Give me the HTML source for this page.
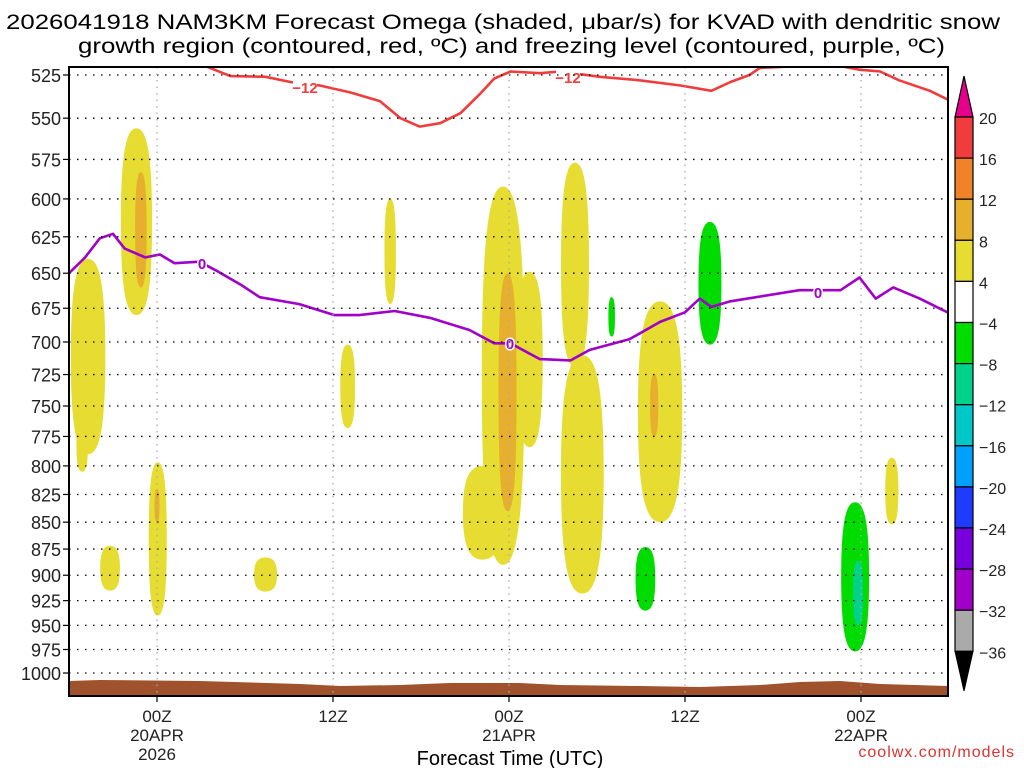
<!DOCTYPE html>
<html><head><meta charset="utf-8"><style>
html,body{margin:0;padding:0;background:#fff;width:1024px;height:768px;overflow:hidden}
svg{font-family:"Liberation Sans",sans-serif}
</style></head><body>
<svg id="chart" width="1024" height="768" viewBox="0 0 1024 768" xmlns="http://www.w3.org/2000/svg">
<text x="6" y="29" font-size="21" textLength="994" lengthAdjust="spacingAndGlyphs" fill="#000">2026041918 NAM3KM Forecast Omega (shaded, μbar/s) for KVAD with dendritic snow</text>
<text x="78" y="53" font-size="21" textLength="867" lengthAdjust="spacingAndGlyphs" fill="#000">growth region (contoured, red, ºC) and freezing level (contoured, purple, ºC)</text>
<g id="plot"></g>
<text x="510" y="765" font-size="20" text-anchor="middle">Forecast Time (UTC)</text>
<text x="1015" y="757" font-size="16" text-anchor="end" fill="#e03030" letter-spacing="1">coolwx.com/models</text>
</svg>
<script>
const pressureTicks=[525,550,575,600,625,650,675,700,725,750,775,800,825,850,875,900,925,950,975,1000];
const timeTicks=[0,12,24,36,48];
const timeLabels=[["00Z","20APR","2026"],["12Z"],["00Z","21APR"],["12Z"],["00Z","22APR"]];
const freezeHours=[-6,-4.9,-3.9,-3.0,-2.2,-0.8,0.2,1.2,2.9,4.0,5.7,7.0,9.7,12.1,13.8,16.2,18.6,21.3,23.0,24.1,26.1,28.2,29.5,32.2,34.3,36.0,37.0,37.8,39.1,43.8,46.6,47.9,49.0,50.2,52.0,53.9];
const freezeP=[650,639,626,623,633,639,637,643,642,648,658,667,672,680,680,677,682,691,701,701,713,714,706,698,685,678,668,674,670,662,662,653,668,660,668,678];
const dgzHours=[3.3,5.0,7.4,9.1,11.1,13.2,15.2,16.6,17.9,19.3,20.7,22.0,23.0,24.1,26.1,27.5,30.2,32.9,35.7,37.8,39.1,40.4,41.1,43.8,46.6,47.9,49.3,50.6,52.7,53.9];
const dgzP=[520,525.6,526,529,531,535,540,550,555,553,547,536,527,523,524,523,526,528,531,534,529,525,521,520,520,522,523,528,534,539];
// blobs: [centerHour, topP, bottomP, halfWidthHours, level]
const blobHour=[-1.4,-4.7,-5.1,0.05,-3.2,7.4,13.0,15.9,23.6,22.2,25.4,28.5,29.0,34.3,50.1,-1.1,23.9,33.9,0.0,37.7,31.0,33.3,47.6,47.8];
const blobTop=[556,640,760,797,872,883,702,600,592,800,649,577,710,670,793,583,650,725,820,615,667,873,832,886];
const blobBot=[680,790,805,940,915,916,768,672,890,885,784,719,918,850,852,660,840,775,850,702,696,935,977,950];
const blobHalf=[0.95,1.05,0.35,0.55,0.6,0.7,0.45,0.35,1.3,1.2,0.8,0.85,1.3,1.35,0.4,0.35,0.55,0.25,0.15,0.7,0.2,0.6,0.85,0.3];
const blobLevel=[4,4,4,4,4,4,4,4,4,4,4,4,4,4,4,8,8,8,8,-4,-4,-4,-4,-8];
const cbLabels=["20","16","12","8","4","\u22124","\u22128","\u221212","\u221216","\u221220","\u221224","\u221228","\u221232","\u221236"];
const cbColors=["#f03c3c","#f08228","#e6af2d","#e6dc32","#ffffff","#00dc00","#00d28c","#00c8c8","#00a0ff","#1e3cff","#7800dc","#a000c8","#aaaaaa"];

const X0=69,X1=948,Y0=67,Y1=696;
const xs=h=>157+(h)*(176/12);
const ys=p=>75+(Math.log(p)-Math.log(525))/(Math.log(1000)-Math.log(525))*598;
const NS="http://www.w3.org/2000/svg";
const plot=document.getElementById('plot');
function mk(tag,attrs,parent){const e=document.createElementNS(NS,tag);for(const k in attrs)e.setAttribute(k,attrs[k]);(parent||plot).appendChild(e);return e;}
const levelColor={4:"#e6dc32",8:"#e6af2d",'-4':"#00dc00",'-8':"#00d28c"};
const defs=mk('defs',{});const cp=mk('clipPath',{id:'clip'},defs);mk('rect',{x:X0,y:Y0,width:X1-X0,height:Y1-Y0},cp);
const g=mk('g',{'clip-path':'url(#clip)'});
for(let i=0;i<blobHour.length;i++){
 const cx=xs(blobHour[i]),yt=ys(blobTop[i]),yb=ys(blobBot[i]),w=blobHalf[i]*176/12*1.12,h=yb-yt;
 const d=`M${cx},${yt} C${cx+w*0.7},${yt} ${cx+w},${yt+h*0.15} ${cx+w},${yt+h*0.5} C${cx+w},${yt+h*0.85} ${cx+w*0.7},${yb} ${cx},${yb} C${cx-w*0.7},${yb} ${cx-w},${yt+h*0.85} ${cx-w},${yt+h*0.5} C${cx-w},${yt+h*0.15} ${cx-w*0.7},${yt} ${cx},${yt}Z`;
 const b=mk('path',{d:d,fill:levelColor[blobLevel[i]]},g);
 
 
}
const gr=mk('path',{d:`M${X0},${Y1} L${X0},681 L100,680 L200,681 L300,684 L340,686 L400,685 L450,683 L520,683 L560,685 L640,686 L700,687 L760,685 L800,682 L840,681 L880,684 L948,686 L948,${Y1}Z`,fill:"#a0522d"},g);


pressureTicks.forEach((p,i)=>{
 const y=ys(p);
 const l=mk('line',{x1:X0,x2:X1,y1:y,y2:y,stroke:"#000",'stroke-width':1.3,'stroke-dasharray':'1.5 6.5'});
 
 
 mk('line',{x1:X0-6,x2:X0,y1:y,y2:y,stroke:"#000",'stroke-width':1.2});
 const t=mk('text',{x:X0-8,y:y+7,'font-size':18,'text-anchor':'end',fill:"#222"});t.textContent=p;
 
 
});
timeTicks.forEach((h,i)=>{
 const x=xs(h);
 const l=mk('line',{x1:x,x2:x,y1:Y0,y2:Y1,stroke:"#aaa",'stroke-width':1.3,'stroke-dasharray':'1.5 5'});
 
 
 mk('line',{x1:x,x2:x,y1:Y1,y2:Y1+6,stroke:"#000",'stroke-width':1.2});
 timeLabels[i].forEach((s,j)=>{const t=mk('text',{x:x,y:722+j*19,'font-size':17,'text-anchor':'middle',fill:"#222"});t.textContent=s;
 
 });
});
function line(hs,ps,color,name){const d=hs.map((h,i)=>(i?'L':'M')+xs(h).toFixed(1)+','+ys(ps[i]).toFixed(1)).join(' ');
 const e=mk('path',{d:d,fill:'none',stroke:color,'stroke-width':2.6,'stroke-linejoin':'round'},g);
 
 }
line(freezeHours,freezeP,"#a000c8","freezing-level-line");
line(dgzHours,dgzP,"#f03c3c","dgz-minus12-line");
function lbl(x,y,s,c){mk('rect',{x:x-12,y:y-9,width:24,height:16,fill:'#fff'},g);const t=mk('text',{x:x,y:y+6,'font-size':15,'font-weight':'bold','text-anchor':'middle',fill:c},g);t.textContent=s;
 
 }
lbl(305,87,"\u221212","#f03c3c");lbl(568,77,"\u221212","#f03c3c");
[[202,263],[510,343],[818,292]].forEach(a=>{const t=mk('text',{x:a[0],y:a[1]+6,'font-size':15,'font-weight':'bold','text-anchor':'middle',fill:'#a000c8',stroke:'#fff','stroke-width':3,'paint-order':'stroke'},g);t.textContent="0";
 
 });
const fr=mk('rect',{x:X0,y:Y0,width:X1-X0,height:Y1-Y0,fill:'none',stroke:'#000','stroke-width':2});


const cbx=955,cbw=18,cbt=117,bh=41.1;
const tri=mk('path',{d:`M${cbx},${cbt} L${cbx+cbw/2},76 L${cbx+cbw},${cbt}Z`,fill:'#e6008c',stroke:'#000','stroke-width':1.2});


cbColors.forEach((c,i)=>{const r=mk('rect',{x:cbx,y:cbt+i*bh,width:cbw,height:bh,fill:c,stroke:'#000','stroke-width':1.2});
 
 });
const cbb=cbt+13*bh;
const tri2=mk('path',{d:`M${cbx},${cbb} L${cbx+cbw/2},691 L${cbx+cbw},${cbb}Z`,fill:'#000',stroke:'#000'});


cbLabels.forEach((s,i)=>{const t=mk('text',{x:979,y:cbt+i*bh+7,'font-size':16,fill:'#222'});t.textContent=s;
 
 });
</script>
</body></html>
